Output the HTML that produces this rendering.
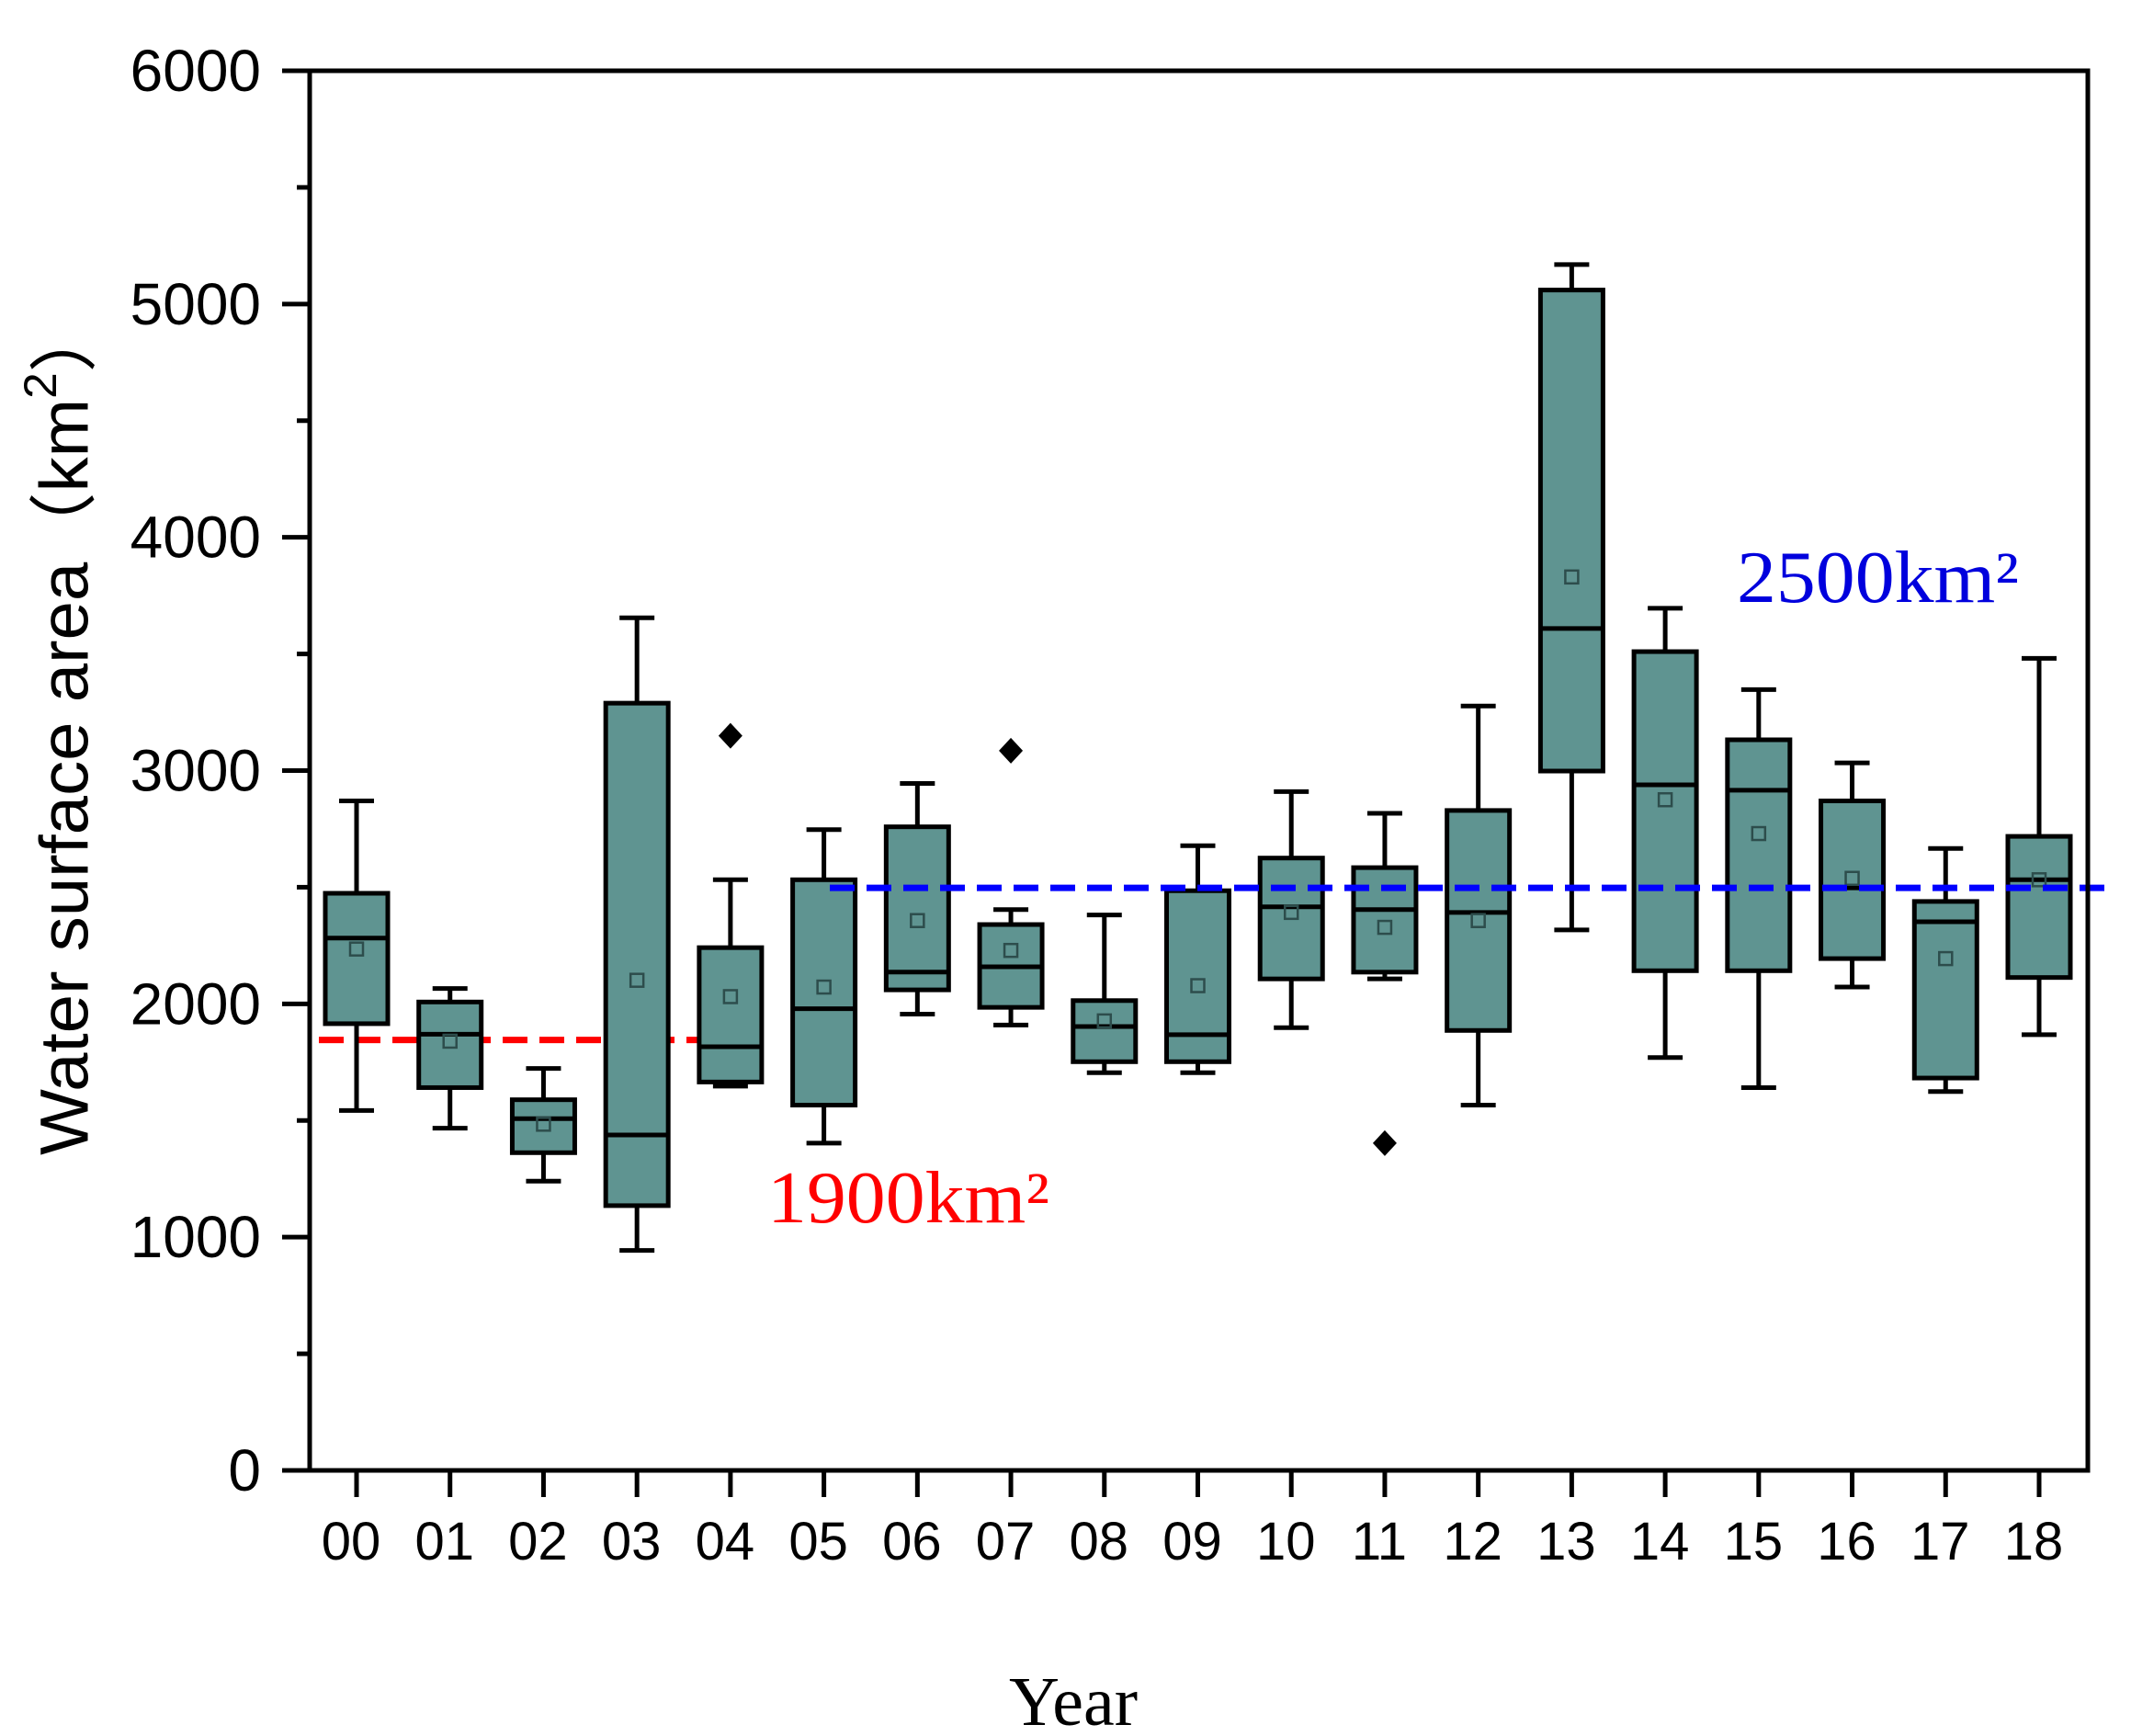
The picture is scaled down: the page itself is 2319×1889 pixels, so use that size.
<!DOCTYPE html>
<html><head><meta charset="utf-8"><style>
html,body{margin:0;padding:0;background:#fff;}
svg{display:block;}
</style></head><body>
<svg id="chart" width="2319" height="1889" viewBox="0 0 2319 1889" xmlns="http://www.w3.org/2000/svg">
<rect x="0" y="0" width="2319" height="1889" fill="#fff"/>
<g id="marks"></g>
<rect x="337" y="77" width="1935" height="1523" fill="none" stroke="#000" stroke-width="5"/>
<g id="axes"></g>
<text x="70" y="793" transform="rotate(-90 70 793)" text-anchor="middle" dominant-baseline="central" font-family="'Liberation Sans','Noto Sans CJK SC',sans-serif" font-size="74" textLength="928" lengthAdjust="spacingAndGlyphs" fill="#000">Water surface area（km<tspan dy="-26" font-size="50">2</tspan><tspan dy="26">）</tspan></text>
<text x="1168" y="1877" text-anchor="middle" font-family="'Liberation Serif',serif" font-size="76" fill="#000">Year</text>
<text x="835" y="1330" font-family="'Liberation Serif',serif" font-size="80" textLength="307" lengthAdjust="spacingAndGlyphs" fill="#ff0000">1900km²</text>
<text x="1890" y="655" font-family="'Liberation Serif',serif" font-size="80" textLength="307" lengthAdjust="spacingAndGlyphs" fill="#0000dd">2500km²</text>
</svg>
<script>
const categories = ["00","01","02","03","04","05","06","07","08","09","10","11","12","13","14","15","16","17","18"];
const whiskerHigh = [2870,2066,1723,3655,2532,2747,2945,2404,2381,2678,2910,2817,3277,5169,3696,3347,3033,2666,3481];
const q3Values    = [2474,2008,1589,3289,2241,2532,2759,2340,2014,2485,2625,2584,2829,5060,3510,3132,2870,2439,2718];
const medians     = [2282,1870,1508,1438,1816,1979,2136,2159,1903,1868,2416,2404,2392,3609,2939,2916,2497,2352,2532];
const q1Values    = [1915,1641,1362,1135,1665,1566,2060,1985,1752,1752,2107,2136,1886,2998,2142,2142,2194,1682,2113];
const whiskerLow  = [1543,1467,1240,943,1647,1403,1956,1909,1705,1705,1898,2107,1566,2317,1770,1641,2072,1624,1868];
const means       = [2235,1840,1484,2101,2031,2072,2357,2229,1927,2078,2392,2328,2357,3830,2875,2730,2538,2194,2532];
const outlierCats = ["04","07","11"];
const outlierVals = [3149,3085,1403];
const yTicks = [0,1000,2000,3000,4000,5000,6000];
const yMinorTicks = [500,1500,2500,3500,4500,5500];
const refLineValues = [1845,2497];

const NS="http://www.w3.org/2000/svg";
const X0=337,X1=2272,Y0=1600,Y1=77;
function yScale(v){return Y0-(v/6000)*(Y0-Y1);}
function xScale(c){const i=categories.indexOf(c);return 388+i*(2219-388)/(categories.length-1);}
function mk(tag,attrs,parent){const e=document.createElementNS(NS,tag);for(const k in attrs)e.setAttribute(k,attrs[k]);parent.appendChild(e);return e;}
const marks=document.getElementById('marks');
const axes=document.getElementById('axes');
const BW=68,CAP=38,SW=5;

const red=mk('line',{x1:347,x2:777,y1:yScale(refLineValues[0]),y2:yScale(refLineValues[0]),stroke:'#ff0000','stroke-width':7,'stroke-dasharray':'27 13'},marks);



categories.forEach((c,i)=>{
  const cx=xScale(c);
  const g=mk('g',{},marks);
  
  
  const w=mk('line',{x1:cx,x2:cx,y1:yScale(whiskerHigh[i]),y2:yScale(whiskerLow[i]),stroke:'#000','stroke-width':SW},g);
  
  
  const ct=mk('line',{x1:cx-CAP/2,x2:cx+CAP/2,y1:yScale(whiskerHigh[i]),y2:yScale(whiskerHigh[i]),stroke:'#000','stroke-width':SW},g);
  
  
  const cb=mk('line',{x1:cx-CAP/2,x2:cx+CAP/2,y1:yScale(whiskerLow[i]),y2:yScale(whiskerLow[i]),stroke:'#000','stroke-width':SW},g);
  
  
  const r=mk('rect',{x:cx-BW/2,y:yScale(q3Values[i]),width:BW,height:yScale(q1Values[i])-yScale(q3Values[i]),fill:'#5f9491',stroke:'#000','stroke-width':SW},g);
  
  
  const m=mk('line',{x1:cx-BW/2,x2:cx+BW/2,y1:yScale(medians[i]),y2:yScale(medians[i]),stroke:'#000','stroke-width':SW},g);
  
  
  const mn=mk('rect',{x:cx-7,y:yScale(means[i])-7,width:14,height:14,fill:'none',stroke:'#2d4d4c','stroke-width':2.5},g);
  
  
});

outlierCats.forEach((c,i)=>{
  const cx=xScale(c),cy=yScale(outlierVals[i]);
  const d=mk('polygon',{points:`${cx},${cy-14} ${cx+13},${cy} ${cx},${cy+14} ${cx-13},${cy}`,fill:'#000'},marks);
  
  
});

const blue=mk('line',{x1:903,x2:2290,y1:yScale(refLineValues[1]),y2:yScale(refLineValues[1]),stroke:'#0000ff','stroke-width':7,'stroke-dasharray':'27 13'},marks);



yTicks.forEach(v=>{
  const y=yScale(v);
  const t=mk('line',{x1:307,x2:X0,y1:y,y2:y,stroke:'#000','stroke-width':SW},axes);
  
  
  const l=mk('text',{x:284,y:y,'text-anchor':'end','dominant-baseline':'central','font-family':"'Liberation Sans',sans-serif",'font-size':64,fill:'#000'},axes);
  l.textContent=v;
  
  
});
yMinorTicks.forEach(v=>{
  const y=yScale(v);
  const t=mk('line',{x1:323,x2:X0,y1:y,y2:y,stroke:'#000','stroke-width':SW},axes);
  
  
});
categories.forEach(c=>{
  const x=xScale(c);
  const t=mk('line',{x1:x,x2:x,y1:Y0,y2:1629,stroke:'#000','stroke-width':SW},axes);
  
  
  const l=mk('text',{x:x-6,y:1697,'text-anchor':'middle','font-family':"'Liberation Sans',sans-serif",'font-size':58,fill:'#000'},axes);
  l.textContent=c;
  
  
});
</script>
</body></html>
